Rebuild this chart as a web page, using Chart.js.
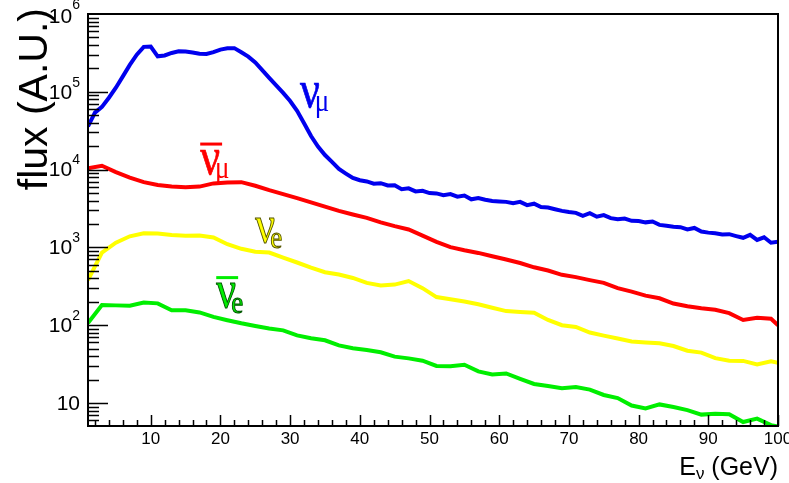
<!DOCTYPE html>
<html>
<head>
<meta charset="utf-8">
<script src="https://cdn.jsdelivr.net/npm/chart.js@4.4.1/dist/chart.umd.min.js"></script>
<style>
  html, body { margin: 0; padding: 0; background: #fff; }
  #wrap { width: 789px; height: 483px; position: relative; }
</style>
</head>
<body>
<div id="wrap"><canvas id="flux_chart"></canvas></div>
<script>
// energies (GeV)
const energyFine = [1, 2, 3, 4, 5, 6, 7, 8, 9, 10, 11, 12, 13, 14, 15, 16, 17, 18, 19, 20,
  21, 22, 23, 24, 25, 26, 27, 28, 29, 30, 31, 32, 33, 34, 35, 36, 37, 38, 39, 40,
  41, 42, 43, 44, 45, 46, 47, 48, 49, 50, 51, 52, 53, 54, 55, 56, 57, 58, 59, 60,
  61, 62, 63, 64, 65, 66, 67, 68, 69, 70, 71, 72, 73, 74, 75, 76, 77, 78, 79, 80,
  81, 82, 83, 84, 85, 86, 87, 88, 89, 90, 91, 92, 93, 94, 95, 96, 97, 98, 99, 100];
const energyCoarse = [1, 3, 5, 7, 9, 11, 13, 15, 17, 19, 21, 23, 25, 27, 29, 31, 33, 35, 37, 39,
  41, 43, 45, 47, 49, 51, 53, 55, 57, 59, 61, 63, 65, 67, 69, 71, 73, 75, 77, 79,
  81, 83, 85, 87, 89, 91, 93, 95, 97, 99, 100];

// flux values (A.U.)
const numu = [36000, 54000, 64000, 84000, 113000, 158000, 222000, 300000, 378000, 382000,
  286000, 293000, 316000, 331000, 329000, 320000, 309000, 307000, 323000, 349000,
  362000, 364000, 322000, 283000, 238000, 190000, 151000, 121000, 97000, 76000,
  57000, 39500, 27000, 19800, 15400, 12600, 10200, 8900, 7800, 7300,
  7050, 6600, 6700, 6250, 6300, 5600, 5750, 5250, 5350, 5000,
  4950, 4700, 4850, 4500, 4650, 4150, 4300, 4100, 3950, 3900,
  3850, 3700, 3850, 3500, 3650, 3300, 3250, 3100, 2950, 2850,
  2780, 2550, 2750, 2480, 2600, 2380, 2300, 2350, 2200, 2180,
  2100, 2150, 1950, 1900, 1850, 1820, 1700, 1780, 1600, 1550,
  1520, 1470, 1480, 1400, 1330, 1450, 1250, 1350, 1150, 1180];
const numubar = [10400, 11200, 9300, 7900, 6900, 6350, 6050, 5930, 6050, 6650,
  6850, 6900, 6200, 5450, 4850, 4300, 3800, 3350, 2950, 2650,
  2400, 2100, 1880, 1700, 1420, 1180, 1010, 920, 850, 770,
  700, 630, 555, 505, 445, 415, 380, 350, 300, 270,
  240, 222, 190, 175, 165, 158, 143, 117, 125, 121, 100];
const nue = [380, 860, 1150, 1390, 1520, 1510, 1445, 1410, 1420, 1340,
  1100, 960, 880, 860, 740, 640, 550, 480, 448, 405,
  350, 325, 333, 370, 300, 230, 216, 202, 186, 168,
  152, 148, 145, 117, 100, 95, 80.5, 73.5, 67.5, 62,
  60, 58.5, 54, 47, 44.5, 37.8, 35, 34.8, 31.3, 34.5, 33];
const nuebar = [107, 182, 180, 178, 196, 191, 156, 156, 146, 128,
  116, 106, 98, 91, 86, 74, 68, 64, 55, 50.5,
  48, 45, 39.5, 37.5, 35, 30, 29.8, 31, 25.5, 23.3,
  24, 20.5, 17.6, 16.6, 15.5, 16.1, 14.9, 12.7, 11.6, 9.3,
  8.5, 9.6, 8.9, 8.1, 7.1, 7.3, 7.2, 5.7, 6.3, 5.2, 5.0];

// axis ticks
const xTickLabels = ["10", "20", "30", "40", "50", "60", "70", "80", "90", "100"];
const yTickValues = [10, 100, 1000, 10000, 100000, 1000000];
const yTickExponents = ["", "2", "3", "4", "5", "6"];

// curve labels: [energy, flux, symbol, subscript, bar, colour, outline]
const curveLabels = [
  [31.4, 64000, "\u03BD", "\u03BC", false, "#0000ee", null],
  [17.1, 8900, "\u03BD", "\u03BC", true, "#ff0000", null],
  [25.0, 1175, "\u03BD", "e", false, "#ffff00", "#555500"],
  [19.4, 171, "\u03BD", "e", true, "#00ee00", "#005500"]
];

const toPts = (xs, ys) => xs.map((x, i) => ({ x: x, y: ys[i] }));

const rootAxes = {
  id: "rootAxes",
  afterDatasetsDraw(chart) {
    const { ctx, chartArea: a, scales: { x, y } } = chart;
    ctx.save();
    ctx.strokeStyle = "#000";
    ctx.fillStyle = "#000";

    // ticks
    ctx.lineWidth = 1.5;
    ctx.beginPath();
    for (let e = 2; e <= 100; e += 2) {
      const px = Math.round(x.getPixelForValue(e)) + 0.5;
      const len = e % 10 === 0 ? 11 : 6;
      ctx.moveTo(px, a.bottom);
      ctx.lineTo(px, a.bottom - len);
    }
    for (let d = 0; d <= 5; d++) {
      for (let m = 1; m <= 9; m++) {
        const v = m * Math.pow(10, d);
        if (v < y.min || v > y.max) continue;
        const py = Math.round(y.getPixelForValue(v)) + 0.5;
        const len = m === 1 ? 20 : 11;
        ctx.moveTo(a.left, py);
        ctx.lineTo(a.left + len, py);
      }
    }
    ctx.stroke();

    // frame
    ctx.lineWidth = 2;
    ctx.strokeRect(a.left, a.top, a.right - a.left, a.bottom - a.top);

    // x tick labels
    ctx.font = "17px 'Liberation Sans', Arial, sans-serif";
    ctx.textAlign = "center";
    ctx.textBaseline = "top";
    xTickLabels.forEach((t) => {
      ctx.fillText(t, x.getPixelForValue(Number(t)), a.bottom + 5);
    });

    // y tick labels
    ctx.textBaseline = "middle";
    yTickValues.forEach((v, i) => {
      const py = y.getPixelForValue(v);
      const ex = yTickExponents[i];
      ctx.font = "14px 'Liberation Sans', Arial, sans-serif";
      const ew = ex ? ctx.measureText(ex).width : 0;
      if (ex) {
        ctx.textAlign = "right";
        ctx.fillText(ex, 80, py - 9);
      }
      ctx.font = "21px 'Liberation Sans', Arial, sans-serif";
      ctx.textAlign = "right";
      ctx.fillText("10", 80 - ew, py + (i === 5 ? 3 : 1));
    });

    // y title
    ctx.save();
    ctx.translate(47, 8);
    ctx.rotate(-Math.PI / 2);
    ctx.font = "41px 'Liberation Sans', Arial, sans-serif";
    ctx.textAlign = "right";
    ctx.textBaseline = "alphabetic";
    ctx.fillText("flux (A.U.)", 0, 0);
    ctx.restore();

    // x title
    ctx.textBaseline = "alphabetic";
    ctx.textAlign = "left";
    ctx.font = "25px 'Liberation Sans', Arial, sans-serif";
    const t1 = "E", t3 = " (GeV)";
    const w1 = ctx.measureText(t1).width, w3 = ctx.measureText(t3).width;
    ctx.font = "17px 'Liberation Sans', Arial, sans-serif";
    const w2 = ctx.measureText("\u03BD").width;
    let tx = a.right - (w1 + w2 + w3);
    ctx.font = "25px 'Liberation Sans', Arial, sans-serif";
    ctx.fillText(t1, tx, 475);
    ctx.font = "17px 'Liberation Sans', Arial, sans-serif";
    ctx.fillText("\u03BD", tx + w1, 479);
    ctx.font = "25px 'Liberation Sans', Arial, sans-serif";
    ctx.fillText(t3, tx + w1 + w2, 475);

    // curve labels (slightly stretched serif glyphs, like the ROOT symbol font)
    curveLabels.forEach(([e, f, sym, sub, bar, col, outline]) => {
      const px = x.getPixelForValue(e);
      const py = y.getPixelForValue(f);
      ctx.fillStyle = col;
      ctx.strokeStyle = outline || col;
      ctx.lineWidth = outline ? 0.9 : 0.6;
      ctx.font = "44px 'Liberation Serif', 'Times New Roman', serif";
      const sw = ctx.measureText(sym).width;
      ctx.save();
      ctx.translate(px, py);
      ctx.scale(1, 1.2);
      ctx.fillText(sym, 0, 0);
      ctx.strokeText(sym, 0, 0);
      ctx.restore();
      const subDy = sub === "e" ? 6 : 4;
      ctx.font = "27px 'Liberation Serif', 'Times New Roman', serif";
      ctx.save();
      ctx.translate(px + sw - 5, py + subDy);
      ctx.scale(1, 1.2);
      ctx.fillText(sub, 0, 0);
      if (outline) ctx.strokeText(sub, 0, 0);
      ctx.restore();
      if (bar) {
        ctx.fillRect(px, py - 31, sw + 2, 3);
      }
    });
    ctx.restore();
  }
};

const ctx = document.getElementById("flux_chart").getContext("2d");

new Chart(ctx, {
  type: "line",
  data: {
    datasets: [
      { label: "numu", data: toPts(energyFine, numu), borderColor: "#0000ee" },
      { label: "numubar", data: toPts(energyCoarse, numubar), borderColor: "#ff0000" },
      { label: "nue", data: toPts(energyCoarse, nue), borderColor: "#ffff00" },
      { label: "nuebar", data: toPts(energyCoarse, nuebar), borderColor: "#00ee00" }
    ]
  },
  options: {
    responsive: true,
    maintainAspectRatio: false,
    animation: false,
    layout: { padding: { left: 88, top: 14, right: 11, bottom: 57 } },
    elements: {
      point: { radius: 0 },
      line: { borderWidth: 4, tension: 0, fill: false }
    },
    plugins: {
      legend: { display: false },
      tooltip: { enabled: false }
    },
    scales: {
      x: { type: "linear", min: 1, max: 100, display: false },
      y: { type: "logarithmic", min: 5.07, max: 1000000, display: false }
    }
  },
  plugins: [rootAxes]
});
</script>
</body>
</html>
